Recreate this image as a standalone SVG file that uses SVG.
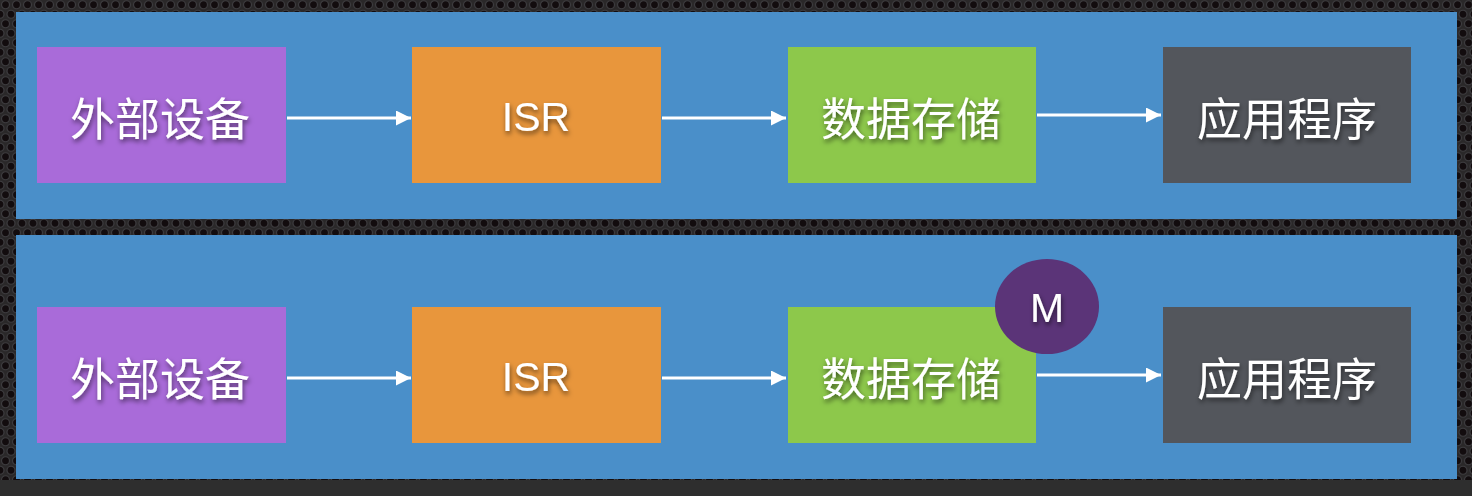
<svg xmlns="http://www.w3.org/2000/svg" width="1472" height="496" viewBox="0 0 1472 496">
<defs>
<pattern id="mesh" width="11" height="19" patternUnits="userSpaceOnUse">
<rect width="11" height="19" fill="#2a2829"/>
<circle cx="5.5" cy="4.75" r="4" fill="#120c0e" stroke="#3c3b3e" stroke-width="1.2"/>
<circle cx="0" cy="14.25" r="4" fill="#120c0e" stroke="#3c3b3e" stroke-width="1.2"/>
<circle cx="11" cy="14.25" r="4" fill="#120c0e" stroke="#3c3b3e" stroke-width="1.2"/>
</pattern>
<filter id="sh" x="-20%" y="-30%" width="140%" height="160%">
<feDropShadow dx="1" dy="3" stdDeviation="2.5" flood-color="#000" flood-opacity="0.55"/>
</filter>
<marker id="arr" viewBox="0 0 15 15" refX="15" refY="7.5" markerWidth="15" markerHeight="15" markerUnits="userSpaceOnUse" orient="auto">
<path d="M0,0 L15,7.5 L0,15 z" fill="#ffffff"/>
</marker>
</defs>
<style>
.lbl{font-family:"Noto Sans CJK SC","Liberation Sans",sans-serif;font-size:45px;fill:#ffffff;text-anchor:middle;dominant-baseline:central;filter:url(#sh)}
.lat{font-family:"Liberation Sans","Noto Sans",sans-serif;font-size:41px;fill:#ffffff;text-anchor:middle;dominant-baseline:central;filter:url(#sh)}
.conn{stroke:#ffffff;stroke-width:3;fill:none;marker-end:url(#arr)}
.panel{fill:#4a8fc9}
</style>
<rect width="1472" height="496" fill="url(#mesh)"/>
<rect x="0" y="480" width="1472" height="16" fill="#2e2e2e"/>
<rect class="panel" x="16" y="12" width="1441" height="207"/>
<rect class="panel" x="16" y="235" width="1441" height="244"/>

<g id="connectors">
<line class="conn" x1="287" y1="118" x2="411" y2="118"/>
<line class="conn" x1="662" y1="118" x2="786" y2="118"/>
<line class="conn" x1="1037" y1="115" x2="1161" y2="115"/>
<line class="conn" x1="287" y1="378" x2="411" y2="378"/>
<line class="conn" x1="662" y1="378" x2="786" y2="378"/>
<line class="conn" x1="1037" y1="375" x2="1161" y2="375"/>
</g>

<g id="n1"><rect x="37" y="47" width="249" height="136" fill="#a96bd9"/><text class="lbl" x="160" y="116">外部设备</text></g>
<g id="n2"><rect x="412" y="47" width="249" height="136" fill="#e8963c"/><text class="lat" x="536" y="117">ISR</text></g>
<g id="n3"><rect x="788" y="47" width="248" height="136" fill="#8dc84b"/><text class="lbl" x="911" y="116">数据存储</text></g>
<g id="n4"><rect x="1163" y="47" width="248" height="136" fill="#53565c"/><text class="lbl" x="1287" y="116">应用程序</text></g>

<g id="n5"><rect x="37" y="307" width="249" height="136" fill="#a96bd9"/><text class="lbl" x="160" y="376">外部设备</text></g>
<g id="n6"><rect x="412" y="307" width="249" height="136" fill="#e8963c"/><text class="lat" x="536" y="377">ISR</text></g>
<g id="n7"><rect x="788" y="307" width="248" height="136" fill="#8dc84b"/><text class="lbl" x="911" y="376">数据存储</text></g>
<g id="n8"><rect x="1163" y="307" width="248" height="136" fill="#53565c"/><text class="lbl" x="1287" y="376">应用程序</text></g>
<g id="n9"><ellipse cx="1047" cy="306.5" rx="52" ry="47.5" fill="#5b3478"/><text class="lat" x="1047" y="308">M</text></g>
</svg>
